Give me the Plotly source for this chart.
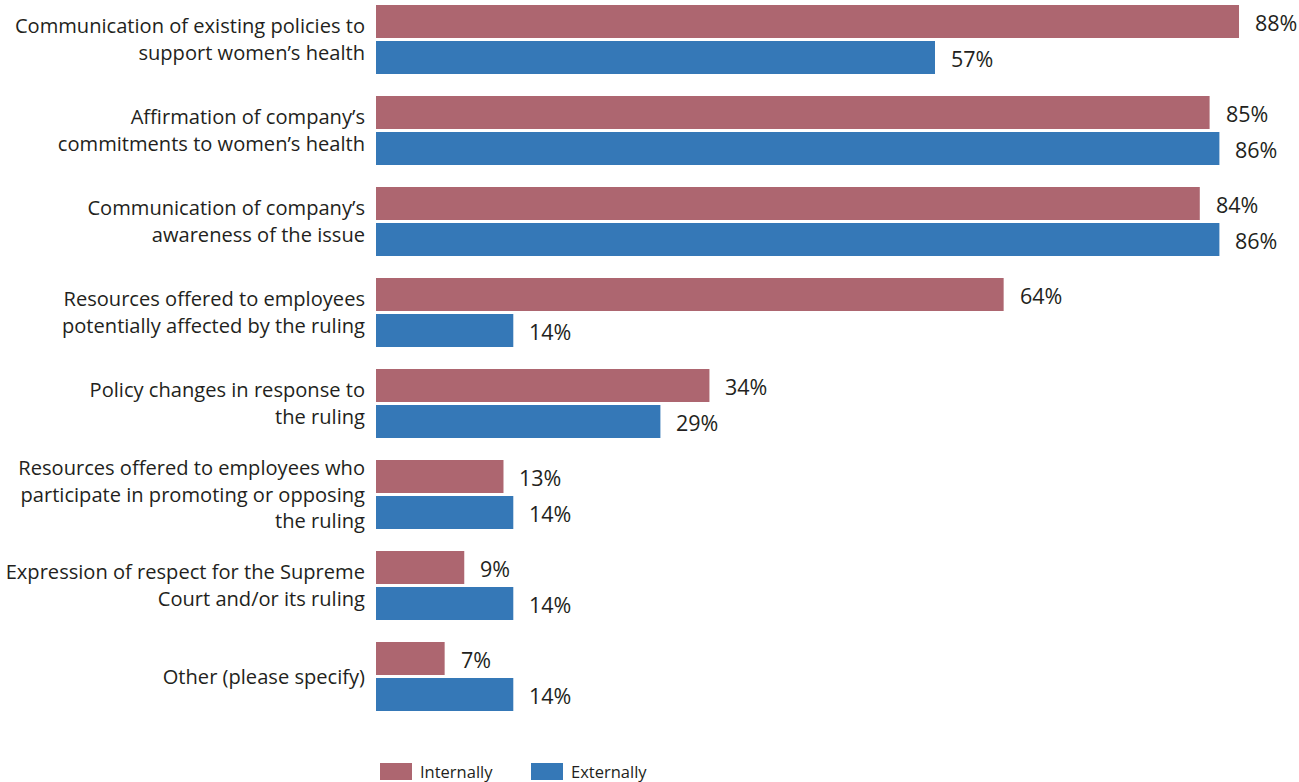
import plotly.graph_objects as go

categories = [
    "Communication of existing policies to<br>support women’s health",
    "Affirmation of company’s<br>commitments to women’s health",
    "Communication of company’s<br>awareness of the issue",
    "Resources offered to employees<br>potentially affected by the ruling",
    "Policy changes in response to<br>the ruling",
    "Resources offered to employees who<br>participate in promoting or opposing<br>the ruling",
    "Expression of respect for the Supreme<br>Court and/or its ruling",
    "Other (please specify)",
]
internally = [88, 85, 84, 64, 34, 13, 9, 7]
externally = [57, 86, 86, 14, 29, 14, 14, 14]
series_names = ["Internally", "Externally"]

COL_INT = "#AD6670"
COL_EXT = "#3578B7"
TEXT = "#231F20"
FONT = "Open Sans"

BARGAP = 0.2088
BARGROUPGAP = 0.0833
slot = (1 - BARGAP) / 2          # width per trace within a group
pos = list(range(len(categories)))

fig = go.Figure()
fig.add_trace(go.Bar(y=pos, x=internally, orientation="h", name=series_names[0],
                     marker=dict(color=COL_INT, line_width=0), showlegend=False))
fig.add_trace(go.Bar(y=pos, x=externally, orientation="h", name=series_names[1],
                     marker=dict(color=COL_EXT, line_width=0), showlegend=False))

# value labels beside each bar
ann = []
for i, (a, b) in enumerate(zip(internally, externally)):
    for v, dy in ((a, -slot / 2), (b, slot / 2)):
        ann.append(dict(x=v, y=i + dy, xref="x", yref="y", text=f"{v}%",
                        showarrow=False, xanchor="left", yanchor="middle",
                        xshift=14, yshift=-1, font=dict(family=FONT, size=21.5, color=TEXT)))

# legend swatches and labels along the bottom
shapes = []
for k, (name, col, x0) in enumerate(zip(series_names, (COL_INT, COL_EXT), (380, 531))):
    shapes.append(dict(type="rect", xref="paper", yref="paper",
                       x0=(x0 - 376) / 923, x1=(x0 + 32 - 376) / 923,
                       y0=-(763 - 730) / 730, y1=-(780 - 730) / 730,
                       fillcolor=col, line_width=0))
    ann.append(dict(x=(x0 + 38 - 376) / 923, y=-(771.5 - 730) / 730, xref="paper", yref="paper",
                    text=name, showarrow=False, xanchor="left", yanchor="middle",
                    font=dict(family=FONT, size=16.5, color=TEXT)))

top = -39.5 / 91
bottom = top + 730 / 91

fig.update_layout(
    width=1299, height=782,
    margin=dict(l=376, r=0, t=0, b=52, autoexpand=False),
    paper_bgcolor="white", plot_bgcolor="white",
    barmode="group", bargap=BARGAP, bargroupgap=BARGROUPGAP,
    font=dict(family=FONT, color=TEXT),
    xaxis=dict(range=[0, 923 / 9.807], visible=False, fixedrange=True, automargin=False),
    yaxis=dict(range=[bottom, top], tickvals=pos, ticktext=categories, automargin=False,
               showgrid=False, zeroline=False, showline=False, ticks="",
               ticklabelstandoff=10, tickfont=dict(family=FONT, size=20.1, color=TEXT)),
    annotations=ann, shapes=shapes,
)

fig.write_html("out.html")
